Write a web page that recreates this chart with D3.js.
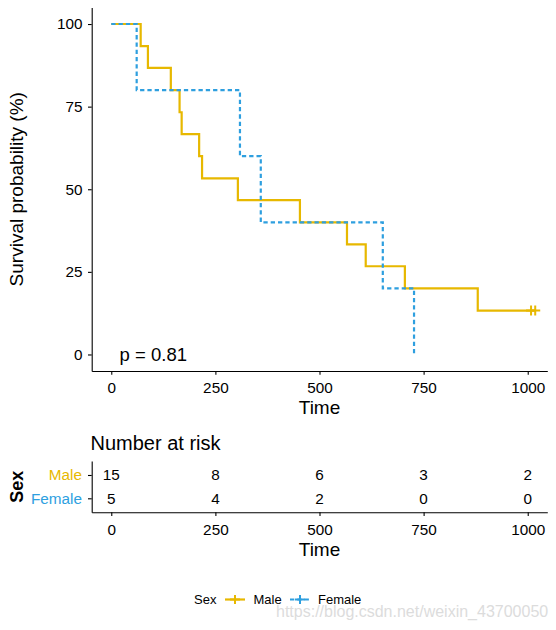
<!DOCTYPE html>
<html>
<head>
<meta charset="utf-8">
<script src="https://cdn.jsdelivr.net/npm/d3@7"></script>
<style>
body { margin: 0; background: #fff; }
svg { display: block; font-family: "Liberation Sans", Arial, sans-serif; }
</style>
</head>
<body>
<svg id="chart" width="556" height="630"></svg>
<script>
// values
const groups = ["Male", "Female"];
const groupColors = ["#E7B800", "#2E9FDF"];

const maleTimes = [0, 70.6, 88, 143, 164, 169, 211, 218, 304, 453, 566, 611, 705, 880];
const maleSurv = [100, 93.3, 86.7, 80, 73.3, 66.7, 60, 53.3, 46.7, 40, 33.3, 26.7, 20, 13.3];
const maleCensorTimes = [1008, 1018];
const maleCensorSurv = [13.3, 13.3];

const femaleTimes = [0, 61, 309, 359, 652, 727];
const femaleSurv = [100, 80, 60, 40, 20, 0];

const timeTicks = [0, 250, 500, 750, 1000];
const survTicks = [0, 25, 50, 75, 100];
const maleRisk = [15, 8, 6, 3, 2];
const femaleRisk = [5, 4, 2, 0, 0];
const pLabel = "p = 0.81";
const pTime = 20;

const svg = d3.select('#chart');

// layout
const left = 91.7, right = 547.3;
const mainTop = 7.5, mainBottom = 371;
const riskTop = 461, riskBottom = 512.3;
const tickFont = '15.3px';
const titleFont = '19px';

const x = d3.scaleLinear().domain([-47, 1047]).range([left, right]);
const y = d3.scaleLinear().domain([-5, 105]).range([mainBottom, mainTop]);
const yRisk = d3.scalePoint().domain(groups).range([riskTop, riskBottom]).padding(0.6);
const color = d3.scaleOrdinal().domain(groups).range(groupColors);

function styleAxis(g) {
    g.selectAll('path, line').attr('stroke', '#000').attr('stroke-width', 1.1);
    g.selectAll('text').attr('fill', '#000').style('font-size', tickFont);
}

// ---- survival plot ----
svg.append('g')
    .attr('transform', `translate(0,${mainBottom})`)
    .call(d3.axisBottom(x).tickValues(timeTicks).tickFormat(d3.format('d'))
        .tickSize(3.7).tickSizeOuter(0).tickPadding(7))
    .call(styleAxis);

svg.append('g')
    .attr('transform', `translate(${left},0)`)
    .call(d3.axisLeft(y).tickValues(survTicks).tickSize(3.7).tickSizeOuter(0).tickPadding(5.5))
    .call(styleAxis);

const step = d3.line()
    .x(d => x(d[0]))
    .y(d => y(d[1]))
    .curve(d3.curveStepAfter);

const malePts = maleTimes.map((t, i) => [t, maleSurv[i]]);
malePts.push([d3.max(maleCensorTimes), maleSurv[maleSurv.length - 1]]);
const femalePts = femaleTimes.map((t, i) => [t, femaleSurv[i]]);

svg.append('path')
    .attr('d', step(malePts))
    .attr('fill', 'none')
    .attr('stroke', color('Male'))
    .attr('stroke-width', 2.2);

// censor marks
svg.append('g')
    .selectAll('path')
    .data(maleCensorTimes.map((t, i) => [t, maleCensorSurv[i]]))
    .enter()
    .append('path')
    .attr('d', d => {
        const cx = x(d[0]), cy = y(d[1]);
        return `M${cx - 5},${cy}H${cx + 5}M${cx},${cy - 5}V${cy + 5}`;
    })
    .attr('stroke', color('Male'))
    .attr('stroke-width', 2);

svg.append('path')
    .attr('d', step(femalePts))
    .attr('fill', 'none')
    .attr('stroke', color('Female'))
    .attr('stroke-width', 2.2)
    .attr('stroke-dasharray', '4.3,3');

svg.append('text')
    .attr('x', x(pTime))
    .attr('y', y(0))
    .attr('dy', '0.36em')
    .style('font-size', '18.5px')
    .text(pLabel);

svg.append('text')
    .attr('x', (left + right) / 2)
    .attr('y', 413.5)
    .attr('text-anchor', 'middle')
    .style('font-size', titleFont)
    .text('Time');

svg.append('text')
    .attr('transform', `translate(22.5,${(mainTop + mainBottom) / 2}) rotate(-90)`)
    .attr('text-anchor', 'middle')
    .style('font-size', titleFont)
    .text('Survival probability (%)');

// ---- risk table ----
svg.append('text')
    .attr('x', 90.5)
    .attr('y', 450)
    .style('font-size', '20px')
    .text('Number at risk');

svg.append('g')
    .attr('transform', `translate(0,${riskBottom})`)
    .call(d3.axisBottom(x).tickValues(timeTicks).tickFormat(d3.format('d'))
        .tickSize(3.7).tickSizeOuter(0).tickPadding(8))
    .call(styleAxis);

const riskAxis = svg.append('g')
    .attr('transform', `translate(${left},0)`)
    .call(d3.axisLeft(yRisk).tickSize(3.7).tickSizeOuter(0).tickPadding(6))
    .call(styleAxis);
riskAxis.selectAll('.tick text').attr('fill', d => color(d));

const riskRows = [
    { group: 'Male', values: maleRisk },
    { group: 'Female', values: femaleRisk }
];

riskRows.forEach(row => {
    svg.append('g')
        .selectAll('text')
        .data(row.values)
        .enter()
        .append('text')
        .attr('x', (d, i) => x(timeTicks[i]))
        .attr('y', yRisk(row.group))
        .attr('dy', '0.35em')
        .attr('text-anchor', 'middle')
        .style('font-size', tickFont)
        .text(d => d);
});

svg.append('text')
    .attr('x', (left + right) / 2)
    .attr('y', 555.5)
    .attr('text-anchor', 'middle')
    .style('font-size', titleFont)
    .text('Time');

svg.append('text')
    .attr('transform', `translate(23,${(riskTop + riskBottom) / 2}) rotate(-90)`)
    .attr('text-anchor', 'middle')
    .style('font-size', '18px')
    .style('font-weight', 'bold')
    .text('Sex');

// ---- legend ----
const legendY = 599.5;
const legend = svg.append('g');

legend.append('text')
    .attr('x', 194)
    .attr('y', legendY)
    .attr('dy', '0.36em')
    .style('font-size', '13px')
    .text('Sex');

const keys = [
    { group: 'Male', x0: 225, tx: 253.5, dash: null },
    { group: 'Female', x0: 290, tx: 318, dash: '4.3,3' }
];

keys.forEach(k => {
    legend.append('line')
        .attr('x1', k.x0).attr('x2', k.x0 + 20)
        .attr('y1', legendY).attr('y2', legendY)
        .attr('stroke', color(k.group))
        .attr('stroke-width', 2.2)
        .attr('stroke-dasharray', k.dash);
    legend.append('path')
        .attr('d', `M${k.x0 + 5},${legendY}H${k.x0 + 15}M${k.x0 + 10},${legendY - 4.5}V${legendY + 4.5}`)
        .attr('stroke', color(k.group))
        .attr('stroke-width', 2);
    legend.append('text')
        .attr('x', k.tx)
        .attr('y', legendY)
        .attr('dy', '0.36em')
        .style('font-size', '13px')
        .text(k.group);
});

// watermark
svg.append('text')
    .attr('x', 276)
    .attr('y', 617)
    .style('font-size', '16px')
    .attr('fill', '#dcdcdc')
    .text('https://blog.csdn.net/weixin_43700050');
</script>
</body>
</html>
